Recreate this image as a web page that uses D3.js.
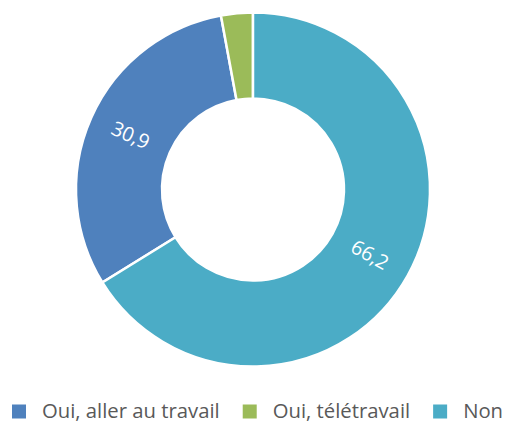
<!DOCTYPE html>
<html>
<head>
<meta charset="utf-8">
<script src="https://cdn.jsdelivr.net/npm/d3@7"></script>
<style>
  body { margin: 0; background: #fff; }
  svg { display: block; font-family: "Open Sans", sans-serif; }
</style>
</head>
<body>
<svg id="chart" width="508" height="423"></svg>
<script>
// data
var categories = ['Oui, aller au travail', 'Oui, télétravail', 'Non'];
var values     = [30.9, 2.9, 66.2];
var labels     = ['30,9', '', '66,2'];
var colors     = ['#4f81bd', '#9bbb59', '#4bacc6'];

var svg = d3.select('#chart');
var cx = 253, cy = 189.5;
var outer = 177, inner = 91;

// start so that the last slice ends at twelve o'clock
var total = d3.sum(values);
var start = -2 * Math.PI * (values[0] + values[1]) / total;

var pie = d3.pie().sort(null).value(function(d) { return d; })
    .startAngle(start).endAngle(start + 2 * Math.PI);
var arc = d3.arc().innerRadius(inner).outerRadius(outer);

var g = svg.append('g').attr('transform', 'translate(' + cx + ',' + cy + ')');
var arcs = pie(values);

g.selectAll('path').data(arcs).enter().append('path')
    .attr('d', arc)
    .attr('fill', function(d, i) { return colors[i]; })
    .attr('stroke', '#fff')
    .attr('stroke-width', 2.5);

// labels along the ring
var mid = (inner + outer) / 2;
g.selectAll('text.lbl').data(arcs).enter().append('text')
    .attr('class', 'lbl')
    .attr('transform', function(d) {
        var a = (d.startAngle + d.endAngle) / 2;
        var x = mid * Math.sin(a), y = -mid * Math.cos(a);
        var deg = a * 180 / Math.PI;
        var rot = (Math.sin(a) >= 0) ? deg - 90 : deg + 90;
        return 'translate(' + x + ',' + y + ') rotate(' + rot + ')';
    })
    .attr('text-anchor', 'middle')
    .attr('dy', '0.35em')
    .attr('fill', '#fff')
    .style('font-size', '20px')
    .text(function(d, i) { return labels[i]; });

// legend
var legend = svg.append('g').attr('transform', 'translate(12,418)');
var x = 0;
categories.forEach(function(c, i) {
    legend.append('rect')
        .attr('x', x).attr('y', -13.5)
        .attr('width', 14).attr('height', 14)
        .attr('fill', colors[i]);
    var t = legend.append('text')
        .attr('x', x + 30).attr('y', 0)
        .attr('fill', '#595959')
        .style('font-size', '20.3px')
        .text(c);
    x += 30 + t.node().getComputedTextLength() + 23;
});
</script>
</body>
</html>
